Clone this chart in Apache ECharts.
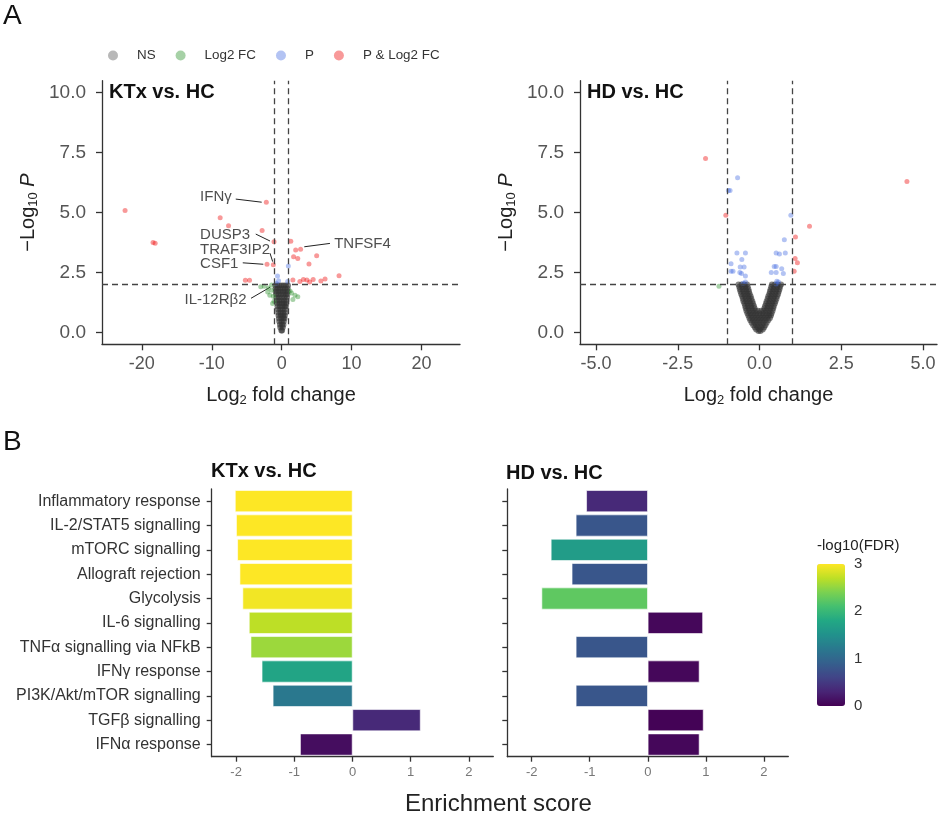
<!DOCTYPE html>
<html>
<head>
<meta charset="utf-8">
<script src="https://cdn.jsdelivr.net/npm/echarts@6/dist/echarts.min.js"></script>
<style>
  html, body { margin: 0; padding: 0; background: #fff; }
  #chart { width: 940px; height: 826px; }
</style>
</head>
<body>
<div id="chart"></div>
<script>
// volcano thresholds
const fcCut = 1
const pCut = 2

// KTx vs. HC volcano points [log2FC, -log10 P]
const ktxNS = [
  [-0.9, 1.95], [-0.6, 1.95], [-0.3, 1.95], [0, 1.95], [0.3, 1.95], [0.6, 1.95], [0.9, 1.95],
  [-0.88, 1.82], [-0.55, 1.82], [-0.2, 1.82], [0.15, 1.82], [0.5, 1.82], [0.85, 1.82],
  [-0.85, 1.7], [-0.5, 1.7], [-0.15, 1.7], [0.2, 1.7], [0.55, 1.7], [0.85, 1.7],
  [-0.8, 1.58], [-0.45, 1.58], [-0.1, 1.58], [0.25, 1.58], [0.6, 1.58], [0.8, 1.58],
  [-0.75, 1.45], [-0.4, 1.45], [0, 1.45], [0.4, 1.45], [0.75, 1.45],
  [-0.7, 1.32], [-0.35, 1.32], [0, 1.32], [0.35, 1.32], [0.7, 1.32],
  [-0.65, 1.2], [-0.3, 1.2], [0.05, 1.2], [0.35, 1.2], [0.65, 1.2],
  [-0.6, 1.08], [-0.25, 1.08], [0.1, 1.08], [0.45, 1.08], [0.6, 1.08],
  [-0.55, 0.95], [-0.2, 0.95], [0.15, 0.95], [0.5, 0.95],
  [-0.5, 0.82], [-0.15, 0.82], [0.2, 0.82], [0.5, 0.82],
  [-0.45, 0.7], [-0.1, 0.7], [0.2, 0.7], [0.45, 0.7],
  [-0.4, 0.58], [-0.05, 0.58], [0.25, 0.58], [0.4, 0.58],
  [-0.35, 0.45], [0, 0.45], [0.3, 0.45],
  [-0.25, 0.32], [0.05, 0.32], [0.25, 0.32],
  [-0.2, 0.2], [0.15, 0.2],
  [-0.05, 0.08], [0.05, 0.08]
]
const ktxLog2FC = [
  [-3.0, 1.9], [-2.5, 1.92], [-1.7, 1.55], [-1.2, 1.5], [-1.4, 1.76], [-1.45, 1.97],
  [-1.9, 1.85], [1.4, 1.64], [1.9, 1.55], [2.3, 1.48], [1.6, 1.37], [1.2, 1.72],
  [-1.1, 1.3], [-2.0, 1.68], [-1.3, 1.2]
]
const ktxP = [[0.95, 2.77], [-0.6, 2.35], [-0.45, 2.15], [0.85, 2.12], [-0.8, 2.05]]
const ktxPLog2FC = [
  [-22.4, 5.08], [-18.4, 3.75], [-18.1, 3.72], [-8.8, 4.78], [-7.6, 4.45], [-2.2, 5.43],
  [-2.8, 4.25], [-1.1, 3.78], [-2.1, 2.84], [-1.2, 2.82], [-5.2, 2.17], [-4.6, 2.17],
  [1.3, 3.8], [2.0, 3.43], [2.7, 3.47], [1.7, 3.15], [2.3, 3.08], [5.0, 3.2], [3.9, 2.85],
  [8.2, 2.36], [1.6, 2.18], [3.1, 2.2], [3.6, 2.18], [4.5, 2.2], [5.6, 2.14], [6.2, 2.22],
  [2.6, 2.12], [4.0, 2.1]
]
// gene labels: [textX, textY, name, pointX, pointY, lineStartX, lineStartY]
const ktxGenes = [
  [-11.67, 5.66, 'IFNγ', -2.86, 5.43, -6.57, 5.56],
  [-11.67, 4.06, 'DUSP3', -1.67, 3.81, -3.71, 4.1],
  [-11.67, 3.43, 'TRAF3IP2', -1.29, 2.95, -1.67, 3.3],
  [-11.67, 2.85, 'CSF1', -2.63, 2.84, -5.57, 2.9],
  [-13.9, 1.35, 'IL-12Rβ2', -1.67, 1.88, -4.39, 1.42],
  [7.51, 3.71, 'TNFSF4', 3.23, 3.57, 6.9, 3.71]
]

// HD vs. HC volcano points
const hdNS = [
  [-0.64, 2.0], [-0.55, 2.0], [-0.46, 2.0], [-0.38, 2.0], [0.38, 2.0], [0.47, 2.0], [0.56, 2.0], [0.66, 2.0],
  [-0.62, 1.9], [-0.53, 1.9], [-0.44, 1.9], [-0.36, 1.9], [0.36, 1.9], [0.45, 1.9], [0.54, 1.9], [0.63, 1.9],
  [-0.6, 1.8], [-0.51, 1.8], [-0.42, 1.8], [-0.34, 1.8], [0.34, 1.8], [0.43, 1.8], [0.52, 1.8], [0.61, 1.8],
  [-0.58, 1.7], [-0.49, 1.7], [-0.4, 1.7], [-0.32, 1.7], [0.32, 1.7], [0.41, 1.7], [0.5, 1.7], [0.59, 1.7],
  [-0.56, 1.6], [-0.47, 1.6], [-0.38, 1.6], [-0.3, 1.6], [0.3, 1.6], [0.39, 1.6], [0.48, 1.6], [0.57, 1.6],
  [-0.53, 1.5], [-0.44, 1.5], [-0.35, 1.5], [-0.27, 1.5], [0.27, 1.5], [0.36, 1.5], [0.45, 1.5], [0.54, 1.5],
  [-0.51, 1.4], [-0.42, 1.4], [-0.33, 1.4], [-0.25, 1.4], [0.25, 1.4], [0.34, 1.4], [0.43, 1.4], [0.52, 1.4],
  [-0.49, 1.3], [-0.4, 1.3], [-0.31, 1.3], [-0.22, 1.3], [0.22, 1.3], [0.31, 1.3], [0.4, 1.3], [0.49, 1.3],
  [-0.46, 1.2], [-0.37, 1.2], [-0.28, 1.2], [-0.2, 1.2], [0.2, 1.2], [0.29, 1.2], [0.38, 1.2], [0.47, 1.2],
  [-0.44, 1.1], [-0.35, 1.1], [-0.26, 1.1], [-0.17, 1.1], [0.17, 1.1], [0.26, 1.1], [0.35, 1.1], [0.44, 1.1],
  [-0.42, 1.0], [-0.33, 1.0], [-0.24, 1.0], [-0.15, 1.0], [0.15, 1.0], [0.24, 1.0], [0.33, 1.0], [0.42, 1.0],
  [-0.4, 0.9], [-0.31, 0.9], [-0.22, 0.9], [-0.13, 0.9], [-0.05, 0.9], [0.05, 0.9], [0.13, 0.9], [0.22, 0.9], [0.31, 0.9], [0.4, 0.9],
  [-0.37, 0.8], [-0.28, 0.8], [-0.19, 0.8], [-0.1, 0.8], [0, 0.8], [0.1, 0.8], [0.19, 0.8], [0.28, 0.8], [0.37, 0.8],
  [-0.34, 0.7], [-0.25, 0.7], [-0.16, 0.7], [-0.07, 0.7], [0.02, 0.7], [0.11, 0.7], [0.2, 0.7], [0.29, 0.7], [0.35, 0.7],
  [-0.31, 0.6], [-0.22, 0.6], [-0.13, 0.6], [-0.04, 0.6], [0.05, 0.6], [0.14, 0.6], [0.23, 0.6], [0.32, 0.6],
  [-0.28, 0.5], [-0.19, 0.5], [-0.1, 0.5], [-0.01, 0.5], [0.08, 0.5], [0.17, 0.5], [0.27, 0.5],
  [-0.24, 0.4], [-0.15, 0.4], [-0.06, 0.4], [0.03, 0.4], [0.12, 0.4], [0.22, 0.4],
  [-0.19, 0.3], [-0.1, 0.3], [-0.01, 0.3], [0.08, 0.3], [0.18, 0.3],
  [-0.14, 0.2], [-0.05, 0.2], [0.05, 0.2], [0.14, 0.2],
  [-0.1, 0.12], [0, 0.12], [0.1, 0.12],
  [-0.03, 0.05], [0.03, 0.05]
]
const hdLog2FC = [[-1.24, 1.92]]
const hdP = [
  [-0.67, 6.45], [-0.95, 5.92], [-0.9, 5.92], [0.96, 4.89], [0.76, 3.86], [-0.69, 3.31],
  [-0.43, 3.31], [-0.87, 2.86], [-0.54, 3.04], [-0.59, 2.73], [-0.47, 2.73], [-0.87, 2.55],
  [-0.81, 2.55], [-0.6, 2.5], [-0.55, 2.45], [-0.43, 2.35], [-0.43, 2.1], [-0.5, 2.05],
  [0.51, 3.31], [0.61, 3.27], [0.79, 3.31], [0.45, 2.75], [0.51, 2.75], [0.68, 2.65],
  [0.36, 2.5], [0.51, 2.5], [0.73, 2.45], [0.53, 2.13], [0.51, 2.02], [0.58, 2.1]
]
const hdPLog2FC = [
  [-1.65, 7.25], [4.51, 6.29], [-1.03, 4.89], [1.53, 4.43], [1.1, 3.98], [1.09, 3.08],
  [1.16, 2.9], [1.06, 2.55]
]

// enrichment bars
const pathways = [
  'Inflammatory response', 'IL-2/STAT5 signalling', 'mTORC signalling', 'Allograft rejection',
  'Glycolysis', 'IL-6 signalling', 'TNFα signalling via NFkB', 'IFNγ response',
  'PI3K/Akt/mTOR signalling', 'TGFβ signalling', 'IFNα response'
]
const ktxScore = [-2.02, -2.0, -1.98, -1.94, -1.89, -1.78, -1.75, -1.56, -1.37, 1.17, -0.9]
const ktxFdr = [3, 3, 3, 3, 2.95, 2.7, 2.55, 1.75, 1.2, 0.35, 0.1]
const hdScore = [-1.06, -1.24, -1.67, -1.31, -1.83, 0.95, -1.24, 0.89, -1.24, 0.96, 0.89]
const hdFdr = [0.35, 0.8, 1.65, 0.8, 2.25, 0.05, 0.8, 0.05, 0.8, 0.02, 0.05]

const volcanoYTicks = [0, 2.5, 5, 7.5, 10]
const ktxXTicks = [-20, -10, 0, 10, 20]
const hdXTicks = [-5, -2.5, 0, 2.5, 5]
const scoreTicks = [-2, -1, 0, 1, 2]

const viridis = ['#440154', '#482475', '#414487', '#355f8d', '#2a788e', '#21918c',
  '#22a884', '#44bf70', '#7ad151', '#bddf26', '#fde725']

const FONT = '"Liberation Sans", Arial, sans-serif'
const axisDark = { show: true, onZero: false, lineStyle: { color: '#333', width: 1.3 } }
const tickDark = { show: true, length: 5, lineStyle: { color: '#333', width: 1.3 } }

const groups = [
  { name: 'NS', color: 'rgba(51,51,51,0.75)', legend: '#a6a6a6', size: 6 },
  { name: 'Log2 FC', color: 'rgba(34,139,34,0.5)', legend: '#90c590', size: 5 },
  { name: 'P', color: 'rgba(65,105,225,0.5)', legend: '#a0b4f0', size: 5 },
  { name: 'P & Log2 FC', color: 'rgba(238,0,0,0.5)', legend: '#f67f7f', size: 5 }
]

function volcanoX(idx, min, max, ticks, digits) {
  return {
    gridIndex: idx, type: 'value', min: min, max: max,
    name: '{a|Log}{s|2}{a| fold change}',
    nameLocation: 'middle', nameGap: 40,
    nameTextStyle: {
      rich: {
        a: { fontSize: 20, color: '#222', fontFamily: FONT },
        s: { fontSize: 13, color: '#222', fontFamily: FONT, verticalAlign: 'bottom', padding: [10, 0, 0, 0] }
      }
    },
    axisLine: axisDark,
    axisTick: { ...tickDark, customValues: ticks, length: 6 },
    axisLabel: {
      customValues: ticks, fontSize: 18, color: '#555', margin: 11,
      formatter: (v) => v.toFixed(digits)
    },
    splitLine: { show: false }
  }
}

function volcanoY(idx) {
  return {
    gridIndex: idx, type: 'value', min: -0.5, max: 10.5,
    name: '{a|−Log}{s|10}{a| }{i|P}',
    nameLocation: 'middle', nameGap: 62, nameRotate: 90,
    nameTextStyle: {
      rich: {
        a: { fontSize: 20, color: '#222', fontFamily: FONT },
        s: { fontSize: 13, color: '#222', fontFamily: FONT, verticalAlign: 'bottom', padding: [10, 0, 0, 0] },
        i: { fontSize: 20, color: '#222', fontFamily: FONT, fontStyle: 'italic' }
      }
    },
    axisLine: axisDark,
    axisTick: { ...tickDark, customValues: volcanoYTicks, length: 6 },
    axisLabel: {
      customValues: volcanoYTicks, fontSize: 19, color: '#555', margin: 16,
      formatter: (v) => v.toFixed(1)
    },
    splitLine: { show: false }
  }
}

function volcanoSeries(idx, sets) {
  return sets.map((d, i) => ({
    name: groups[i].name,
    type: 'scatter',
    xAxisIndex: idx, yAxisIndex: idx,
    symbolSize: groups[i].size,
    silent: true,
    itemStyle: { color: groups[i].color },
    data: d,
    markLine: i === 0 ? {
      silent: true, symbol: 'none', label: { show: false },
      lineStyle: { type: [6, 4], color: '#444', width: 1.3 },
      data: [{ xAxis: -fcCut }, { xAxis: fcCut }, { yAxis: pCut }]
    } : undefined
  }))
}

function scoreX(idx) {
  return {
    gridIndex: idx, type: 'value', min: -2.42, max: 2.42,
    axisLine: axisDark,
    axisTick: { ...tickDark, customValues: scoreTicks },
    axisLabel: { customValues: scoreTicks, fontSize: 13, color: '#777', margin: 9 },
    splitLine: { show: false }
  }
}

function scoreY(idx, showLabels) {
  return {
    gridIndex: idx, type: 'category', data: pathways, inverse: true,
    axisLine: axisDark,
    axisTick: { ...tickDark, alignWithLabel: true },
    axisLabel: { show: showLabels, fontSize: 16, color: '#333', margin: 11 },
    splitLine: { show: false }
  }
}

function barSeries(idx, scores, fdr) {
  return {
    type: 'bar',
    xAxisIndex: idx, yAxisIndex: idx,
    barWidth: '90%',
    silent: true,
    encode: { x: 0, y: 1 },
    itemStyle: { borderColor: '#fff', borderWidth: 0.6 },
    data: scores.map((s, i) => [s, pathways[i], fdr[i]])
  }
}

const series = [
  ...volcanoSeries(0, [ktxNS, ktxLog2FC, ktxP, ktxPLog2FC]),
  ...volcanoSeries(1, [hdNS, hdLog2FC, hdP, hdPLog2FC]),
  {
    type: 'lines', coordinateSystem: 'cartesian2d', xAxisIndex: 0, yAxisIndex: 0,
    silent: true, polyline: false,
    lineStyle: { color: '#222', width: 1, opacity: 1 },
    data: ktxGenes.map(g => ({ coords: [[g[5], g[6]], [g[3], g[4]]] }))
  },
  {
    type: 'scatter', xAxisIndex: 0, yAxisIndex: 0, silent: true, symbolSize: 0,
    label: {
      show: true, position: 'right', distance: 0, fontSize: 15, color: '#222',
      formatter: (p) => p.data[2]
    },
    data: ktxGenes.map(g => [g[0], g[1], g[2]])
  },
  barSeries(2, ktxScore, ktxFdr),
  barSeries(3, hdScore, hdFdr)
]
const barIdx = [series.length - 2, series.length - 1]

const option = {
  backgroundColor: '#fff',
  animation: false,
  textStyle: { fontFamily: FONT },
  title: [
    { text: 'A', left: 3, top: 2, padding: 0, textStyle: { fontSize: 28, fontWeight: 'normal', color: '#111' } },
    { text: 'B', left: 3, top: 428, padding: 0, textStyle: { fontSize: 28, fontWeight: 'normal', color: '#111' } },
    { text: 'KTx vs. HC', left: 109, top: 82, padding: 0, textStyle: { fontSize: 20, fontWeight: 'bold', color: '#111' } },
    { text: 'HD vs. HC', left: 587, top: 82, padding: 0, textStyle: { fontSize: 20, fontWeight: 'bold', color: '#111' } },
    { text: 'KTx vs. HC', left: 211, top: 461, padding: 0, textStyle: { fontSize: 20, fontWeight: 'bold', color: '#111' } },
    { text: 'HD vs. HC', left: 506, top: 463, padding: 0, textStyle: { fontSize: 20, fontWeight: 'bold', color: '#111' } },
    { text: '-log10(FDR)', left: 817, top: 538, padding: 0, textStyle: { fontSize: 15, fontWeight: 'normal', color: '#222' } },
    { text: 'Enrichment score', left: 405, top: 792, padding: 0, textStyle: { fontSize: 24, fontWeight: 'normal', color: '#222' } }
  ],
  legend: {
    left: 108, top: 49, padding: 0,
    itemWidth: 10, itemHeight: 10, itemGap: 20,
    icon: 'circle',
    textStyle: { fontSize: 13.4, color: '#333', padding: [0, 0, 0, 14] },
    data: groups.map(g => ({ name: g.name, itemStyle: { color: g.legend } }))
  },
  grid: [
    { left: 102, top: 80.7, width: 358, height: 263.6 },
    { left: 580, top: 80.7, width: 357, height: 263.6 },
    { left: 211.7, top: 489, width: 281.6, height: 267.7 },
    { left: 507.3, top: 489, width: 281, height: 267.7 },
    { left: 817, top: 564, width: 28, height: 142 }
  ],
  xAxis: [
    volcanoX(0, -25.7, 25.5, ktxXTicks, 0),
    volcanoX(1, -5.49, 5.43, hdXTicks, 1),
    scoreX(2),
    scoreX(3),
    { gridIndex: 4, type: 'value', min: 0, max: 1, show: false }
  ],
  yAxis: [
    volcanoY(0),
    volcanoY(1),
    scoreY(2, true),
    scoreY(3, false),
    {
      gridIndex: 4, type: 'value', min: 0, max: 3, interval: 1, position: 'right', z: 10,
      axisLine: { show: false },
      axisTick: { show: true, inside: true, length: 5, lineStyle: { color: '#fff', width: 1 } },
      axisLabel: { fontSize: 15, color: '#333', margin: 9 },
      splitLine: { show: false }
    }
  ],
  visualMap: {
    type: 'continuous', min: 0, max: 3, dimension: 2,
    seriesIndex: barIdx,
    calculable: false, realtime: false,
    left: 817, top: 564, padding: 0,
    itemWidth: 28, itemHeight: 142,
    text: null, showLabel: false,
    inRange: { color: viridis }
  },
  series: series
}

const chart = echarts.init(document.getElementById('chart'), null, { renderer: 'canvas' })
chart.setOption(option)
</script>
</body>
</html>
